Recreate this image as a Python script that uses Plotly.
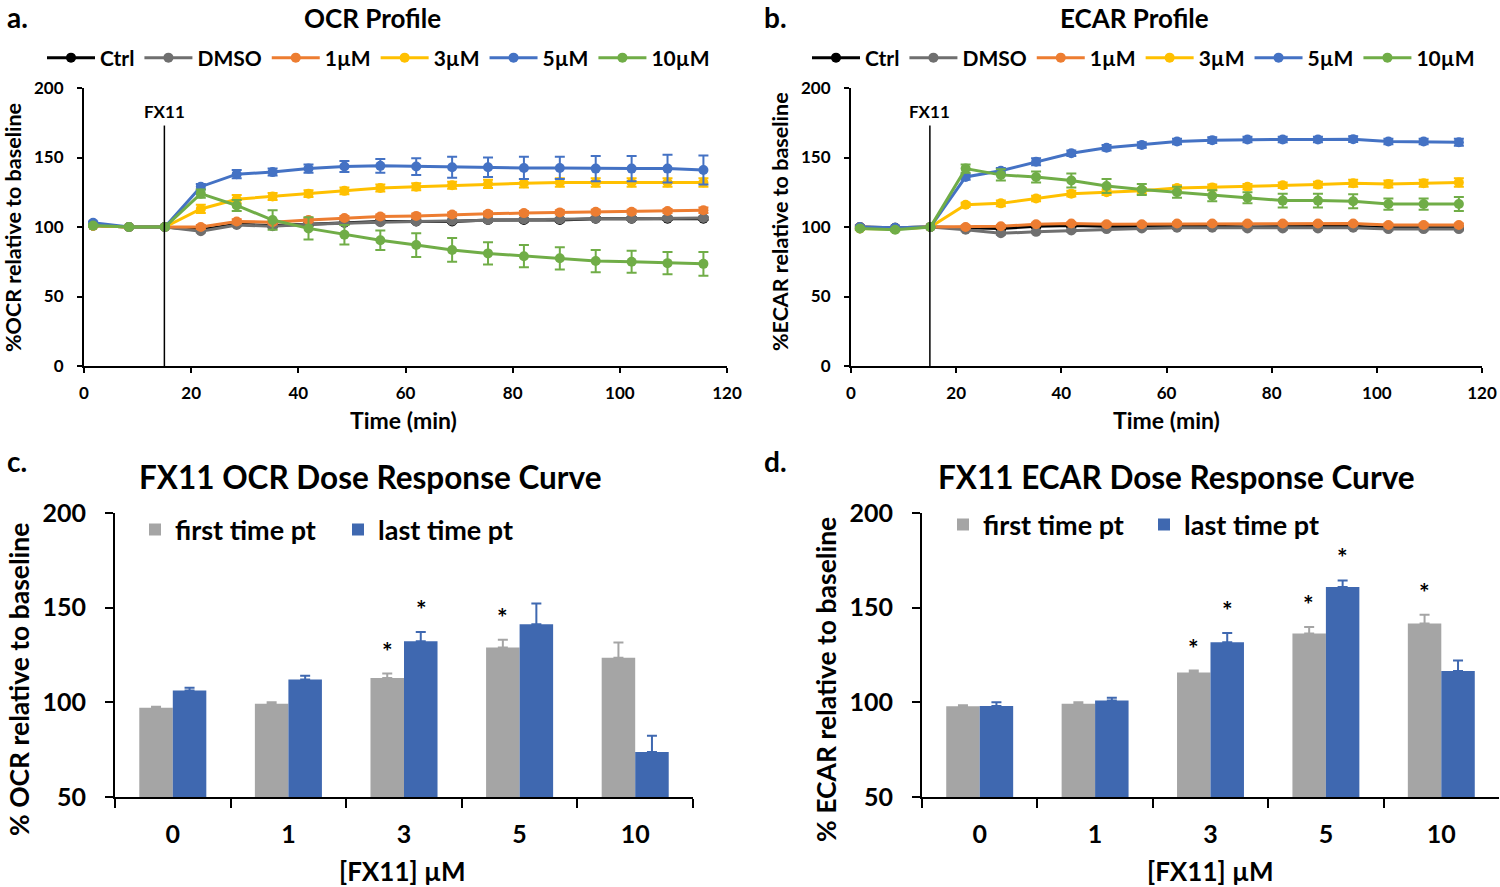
import plotly.graph_objects as go

# ---------------- data ----------------
times = [1.7, 8.4, 15.1, 21.8, 28.5, 35.2, 41.9, 48.6, 55.3, 62.0, 68.7, 75.4, 82.1, 88.8, 95.5, 102.2, 108.9, 115.6]
series_names = ["Ctrl", "DMSO", "1µM", "3µM", "5µM", "10µM"]
series_colors = ["#000000", "#6f6f6f", "#ED7D31", "#FFC000", "#4472C4", "#70AD47"]

ocr_ctrl = [101, 100, 100, 98, 102, 101, 102, 103, 104, 104, 104, 105, 105, 105, 106, 106, 106, 106]
ocr_dmso = [101, 100, 100, 97, 101.5, 100.5, 102, 103, 103.5, 104, 104.5, 105, 105.5, 105.5, 106, 106, 106.5, 106.5]
ocr_1 = [101, 100, 100, 100, 104, 103.5, 105, 106.5, 107.5, 108, 109, 109.5, 110, 110.5, 111, 111, 111.5, 112]
ocr_3 = [101, 100, 100, 113, 120, 122, 124, 126, 128, 129, 130, 131, 131.5, 132, 132, 132, 132, 132]
ocr_5 = [103, 100, 100, 129, 138, 139.5, 142, 143.5, 144, 143.5, 143, 143, 142.5, 142.5, 142, 142, 142, 141]
ocr_10 = [101, 100, 100, 124, 115.5, 105, 99, 94.5, 90.5, 87, 83.5, 81, 79, 77.5, 75.5, 75, 74, 73.5]
ocr_ctrl_err = [1, 0, 0, 1, 1, 1, 1, 1, 1, 1, 1, 1, 1, 1, 1, 1, 1, 1]
ocr_dmso_err = [1, 0, 0, 1, 1, 1, 1, 1, 1, 1, 1, 1, 1, 1, 1, 1, 1, 1]
ocr_1_err = [1, 0, 0, 1.5, 1.5, 1.5, 1.5, 1.5, 1.5, 1.5, 1.5, 1.5, 1.5, 1.5, 1.5, 1.5, 1.5, 2]
ocr_3_err = [1, 0, 0, 3, 3, 2.5, 2.5, 2.5, 2.5, 2.5, 2.5, 3, 3, 3, 3, 3, 3, 3]
ocr_5_err = [1, 0, 0, 2, 3, 2.5, 3, 4, 5, 6, 7.5, 7, 8, 8, 9, 9, 10, 10.5]
ocr_10_err = [1, 0, 0, 3, 4, 7, 8, 7, 7, 8.5, 8.5, 8, 8, 8, 8, 8, 8, 8.5]

ecar_ctrl = [100, 99.5, 100, 99.5, 99, 100.5, 101, 100.5, 100.5, 101, 100.5, 100, 100, 100, 100.5, 99.5, 99.5, 99.5]
ecar_dmso = [99, 99.5, 100, 98, 95.5, 96.5, 97.5, 98.5, 99, 99.5, 99.5, 99, 99, 99, 99.5, 98.5, 98.5, 98.5]
ecar_1 = [100, 99, 100, 100, 100.5, 102, 102.5, 102, 102, 102.5, 102.5, 102.5, 102.5, 102.5, 102.5, 101.5, 101.5, 101.5]
ecar_3 = [99, 98.5, 100, 116, 117, 120.5, 124, 125, 126, 128, 128.5, 129, 130, 130.5, 131.5, 131, 131.5, 132]
ecar_5 = [100, 99.5, 100, 136, 140.5, 147, 153, 157, 159, 161.5, 162.5, 163, 163, 163, 163.2, 161.5, 161.5, 161]
ecar_10 = [99, 98, 100, 142, 137.5, 136, 133.5, 129.5, 127, 125, 122.5, 121, 119, 119, 118.5, 116.5, 116.5, 116.5]
ecar_ctrl_err = [1, 0.5, 0, 1, 1, 1, 1, 1, 1, 1, 1, 1, 1, 1, 1, 1, 1, 1]
ecar_dmso_err = [1, 0.5, 0, 1, 1, 1, 1, 1, 1, 1, 1, 1, 1, 1, 1, 1, 1, 1]
ecar_1_err = [1, 0.5, 0, 1, 1, 1, 1, 1, 1, 1, 1, 1, 1, 1, 1, 1, 1, 1]
ecar_3_err = [1, 0.5, 0, 1.5, 2, 2, 2, 2, 2, 2, 2, 2, 2, 2, 2.5, 2.5, 2.5, 3]
ecar_5_err = [1, 0.5, 0, 2, 2, 2.5, 2, 2, 2, 2, 2, 2, 2, 2, 2, 2, 2, 2.5]
ecar_10_err = [1, 1, 0, 3, 4, 4, 5, 5, 4, 4, 4, 4, 5, 5, 5, 4, 4, 5]

ocr_series = [ocr_ctrl, ocr_dmso, ocr_1, ocr_3, ocr_5, ocr_10]
ocr_errs = [ocr_ctrl_err, ocr_dmso_err, ocr_1_err, ocr_3_err, ocr_5_err, ocr_10_err]
ecar_series = [ecar_ctrl, ecar_dmso, ecar_1, ecar_3, ecar_5, ecar_10]
ecar_errs = [ecar_ctrl_err, ecar_dmso_err, ecar_1_err, ecar_3_err, ecar_5_err, ecar_10_err]

fx11_time = 15
fx11_line_top = 173

doses = ["0", "1", "3", "5", "10"]
ocr_first = [97.2, 99.3, 112.9, 129, 123.6]
ocr_first_err = [0.5, 0.8, 2.3, 4, 8]
ocr_last = [106.3, 112, 132.2, 141.2, 73.8]
ocr_last_err = [1.4, 2, 5, 11, 8.5]
ecar_first = [97.9, 99.3, 115.8, 136.3, 141.7]
ecar_first_err = [0.5, 0.7, 1, 3.5, 4.6]
ecar_last = [98.1, 101, 131.7, 160.9, 116.5]
ecar_last_err = [2, 1.4, 4.9, 3.5, 5.6]
ocr_first_sig = [0, 0, 1, 1, 0]
ocr_last_sig = [0, 0, 1, 0, 0]
ecar_first_sig = [0, 0, 1, 1, 1]
ecar_last_sig = [0, 0, 1, 1, 0]

bar_gray = "#A5A5A5"
bar_blue = "#3F68B0"

# ---------------- figure ----------------
W, H = 1500, 887
FONT = "Lato"
fig = go.Figure()


def px(x):
    return x / W


def py(y):
    return 1 - y / H


# profile line charts
for panel, (series, errs) in enumerate([(ocr_series, ocr_errs), (ecar_series, ecar_errs)]):
    xa = "x" if panel == 0 else "x2"
    ya = "y" if panel == 0 else "y2"
    lg = "legend" if panel == 0 else "legend2"
    for name, col, vals, err in zip(series_names, series_colors, series, errs):
        fig.add_trace(go.Scatter(
            x=times, y=vals, name=name, mode="lines+markers",
            line=dict(color=col, width=3), marker=dict(color=col, size=10),
            error_y=dict(type="data", array=err, color=col, thickness=2, width=5),
            xaxis=xa, yaxis=ya, legend=lg,
        ))

# bar charts
for panel, (first, ferr, last, lerr) in enumerate([
        (ocr_first, ocr_first_err, ocr_last, ocr_last_err),
        (ecar_first, ecar_first_err, ecar_last, ecar_last_err)]):
    xa = "x3" if panel == 0 else "x4"
    ya = "y3" if panel == 0 else "y4"
    lg = "legend3" if panel == 0 else "legend4"
    fig.add_trace(go.Bar(
        x=doses, y=first, name="first time pt", marker=dict(color=bar_gray, line=dict(width=0)),
        error_y=dict(type="data", array=ferr, arrayminus=[0] * len(ferr), symmetric=False,
                     color=bar_gray, thickness=2, width=5),
        xaxis=xa, yaxis=ya, legend=lg,
    ))
    fig.add_trace(go.Bar(
        x=doses, y=last, name="last time pt", marker=dict(color=bar_blue, line=dict(width=0)),
        error_y=dict(type="data", array=lerr, arrayminus=[0] * len(lerr), symmetric=False,
                     color=bar_blue, thickness=2, width=5),
        xaxis=xa, yaxis=ya, legend=lg,
    ))

tickfont_top = dict(family=FONT, size=17, color="black", weight="bold")
tickfont_bot = dict(family=FONT, size=25, color="black", weight="bold")

axis_common = dict(showgrid=False, zeroline=False, showline=True, linecolor="black", linewidth=2,
                   ticks="outside", tickcolor="black", tickwidth=2, automargin=False)

legend_top_font = dict(family=FONT, size=21, color="black", weight="bold")
legend_bot_font = dict(family=FONT, size=27, color="black", weight="bold")

fig.update_layout(
    template="none",
    width=W, height=H, margin=dict(l=0, r=0, t=0, b=0, pad=0, autoexpand=False),
    paper_bgcolor="white", plot_bgcolor="white",
    barmode="group", bargap=0.42, bargroupgap=0,
    showlegend=True,
    xaxis=dict(domain=[px(84), px(727)], range=[0, 120], dtick=20, ticklen=5, ticklabelstandoff=6,
               tickfont=tickfont_top, anchor="y", **axis_common),
    yaxis=dict(domain=[py(366), py(88)], range=[0, 200], dtick=50, ticklen=5, ticklabelstandoff=10,
               tickfont=tickfont_top, anchor="x", **axis_common),
    xaxis2=dict(domain=[px(851), px(1482)], range=[0, 120], dtick=20, ticklen=5, ticklabelstandoff=6,
                tickfont=tickfont_top, anchor="y2", **axis_common),
    yaxis2=dict(domain=[py(366), py(88)], range=[0, 200], dtick=50, ticklen=5, ticklabelstandoff=10,
                tickfont=tickfont_top, anchor="x2", **axis_common),
    xaxis3=dict(domain=[px(115), px(693)], range=[-0.5, 4.5], type="category", tickson="boundaries",
                ticklen=9, ticklabelstandoff=14, tickfont=tickfont_bot, anchor="y3", **axis_common),
    yaxis3=dict(domain=[py(797), py(513)], range=[50, 200], dtick=50, ticklen=8, ticklabelstandoff=14,
                tickfont=tickfont_bot, anchor="x3", **axis_common),
    xaxis4=dict(domain=[px(922), px(1499)], range=[-0.5, 4.5], type="category", tickson="boundaries",
                ticklen=9, ticklabelstandoff=14, tickfont=tickfont_bot, anchor="y4", **axis_common),
    yaxis4=dict(domain=[py(797), py(513)], range=[50, 200], dtick=50, ticklen=8, ticklabelstandoff=14,
                tickfont=tickfont_bot, anchor="x4", **axis_common),
    legend=dict(orientation="h", x=px(42), y=py(58), xanchor="left", yanchor="middle",
                font=legend_top_font, bgcolor="rgba(0,0,0,0)", itemwidth=48),
    legend2=dict(orientation="h", x=px(807), y=py(58), xanchor="left", yanchor="middle",
                 font=legend_top_font, bgcolor="rgba(0,0,0,0)", itemwidth=48),
    legend3=dict(orientation="h", x=px(135), y=py(530), xanchor="left", yanchor="middle",
                 font=legend_bot_font, bgcolor="rgba(0,0,0,0)", itemwidth=30,
                 entrywidth=158, entrywidthmode="pixels"),
    legend4=dict(orientation="h", x=px(943), y=py(525), xanchor="left", yanchor="middle",
                 font=legend_bot_font, bgcolor="rgba(0,0,0,0)", itemwidth=30,
                 entrywidth=156, entrywidthmode="pixels"),
)

# FX11 injection lines
for xa, ya in [("x", "y"), ("x2", "y2")]:
    fig.add_shape(type="line", xref=xa, yref=ya, x0=fx11_time, x1=fx11_time, y0=0, y1=fx11_line_top,
                  line=dict(color="black", width=1.5))
    fig.add_annotation(xref=xa, yref=ya, x=fx11_time, y=fx11_line_top, text="FX11", showarrow=False,
                       yanchor="bottom", yshift=2, font=dict(family=FONT, size=17, color="black", weight="bold"))


def txt(x, y, s, size, angle=0, xanchor="center"):
    fig.add_annotation(xref="paper", yref="paper", x=px(x), y=py(y), text=s, showarrow=False,
                       xanchor=xanchor, yanchor="middle", textangle=angle,
                       font=dict(family=FONT, size=size, color="black", weight="bold"))


# panel letters
txt(5, 17, "a.", 28, xanchor="left")
txt(762, 17, "b.", 28, xanchor="left")
txt(5, 461, "c.", 28, xanchor="left")
txt(762, 461, "d.", 28, xanchor="left")
# titles
txt(372, 18, "OCR Profile", 26)
txt(1134, 18, "ECAR Profile", 26)
txt(370, 477, "FX11 OCR Dose Response Curve", 31.5)
txt(1176, 477, "FX11 ECAR Dose Response Curve", 31.5)
# axis titles
txt(13, 228, "%OCR relative to baseline", 21.5, angle=-90)
txt(780, 222, "%ECAR relative to baseline", 21.5, angle=-90)
txt(404, 420, "Time (min)", 23)
txt(1166, 420, "Time (min)", 23)
txt(19, 680, "% OCR relative to baseline", 26.5, angle=-90)
txt(826, 680, "% ECAR relative to baseline", 26.5, angle=-90)
txt(402, 871, "[FX11] µM", 26)
txt(1210, 871, "[FX11] µM", 26)

# significance stars
for xa, ya, first, ferr, fsig, last, lerr, lsig in [
        ("x3", "y3", ocr_first, ocr_first_err, ocr_first_sig, ocr_last, ocr_last_err, ocr_last_sig),
        ("x4", "y4", ecar_first, ecar_first_err, ecar_first_sig, ecar_last, ecar_last_err, ecar_last_sig)]:
    for i, d in enumerate(doses):
        for vals, errs, sig, shift in [(first, ferr, fsig, -17), (last, lerr, lsig, 17)]:
            if sig[i]:
                fig.add_annotation(xref=xa, yref=ya, x=i, y=vals[i] + errs[i], text="*",
                                   showarrow=False, xshift=shift, yanchor="bottom", yshift=6,
                                   font=dict(family=FONT, size=25, color="black", weight="bold"))

fig.write_html("out.html", config={"displayModeBar": False},
               post_script="document.body.style.margin='0';document.body.style.overflow='hidden';")
